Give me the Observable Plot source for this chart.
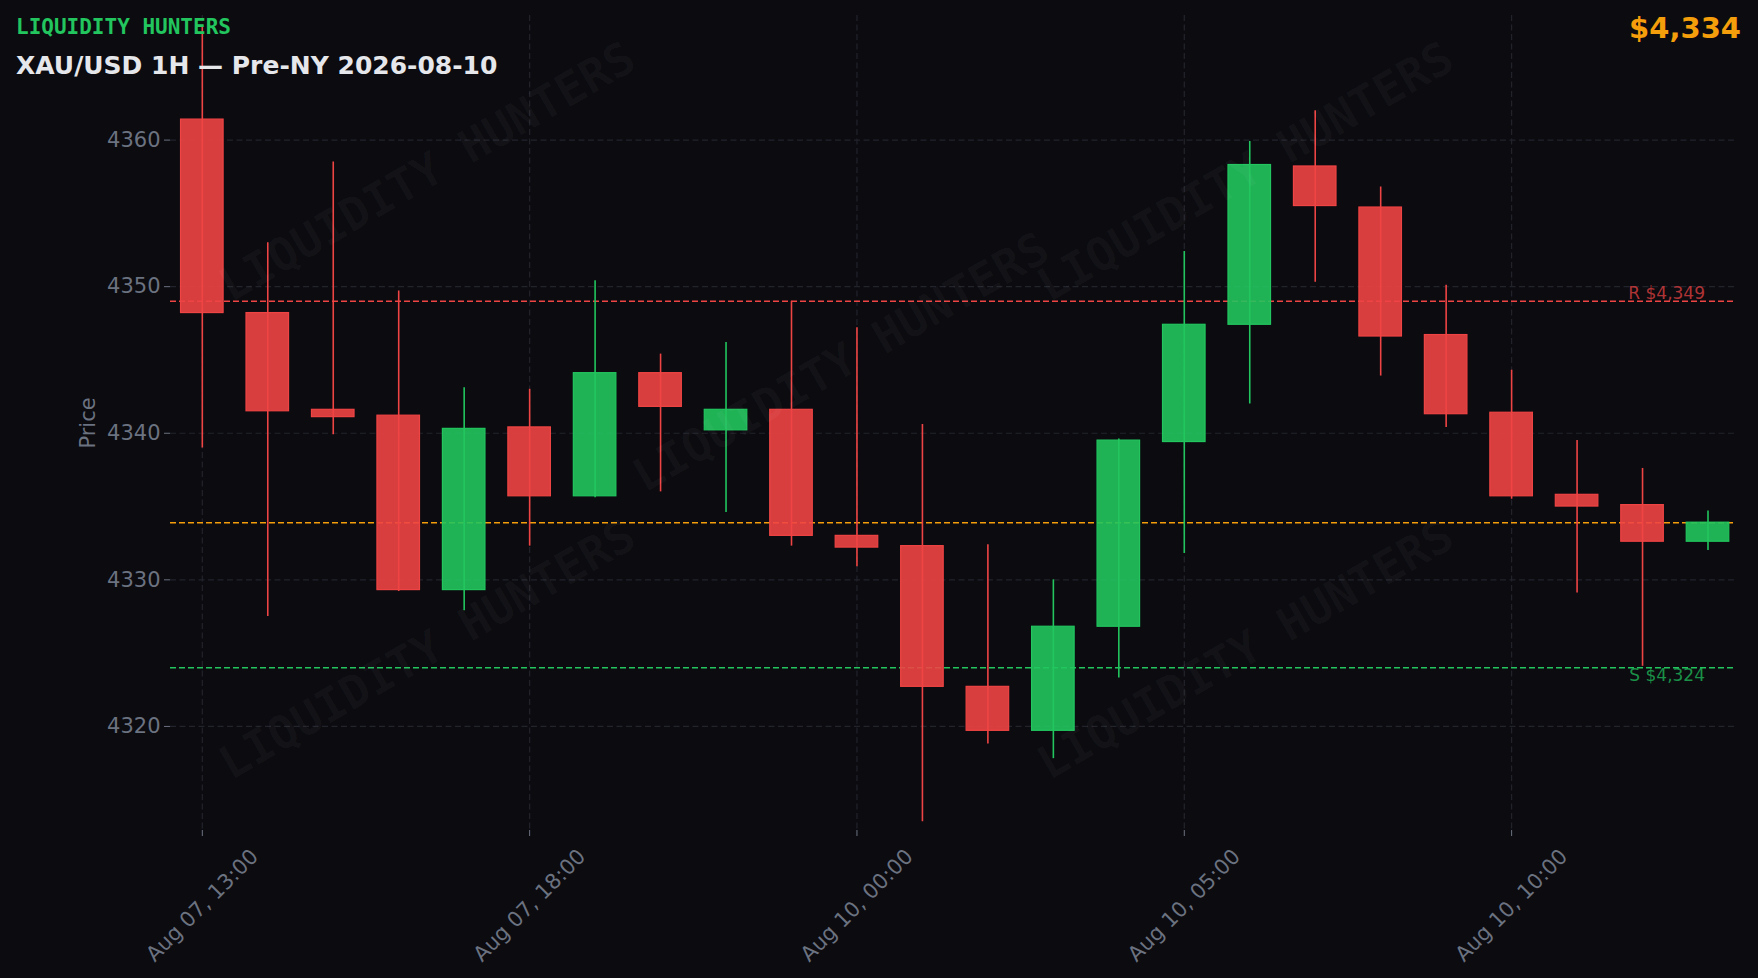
<!DOCTYPE html>
<html>
<head>
<meta charset="utf-8">
<script src="https://cdn.jsdelivr.net/npm/d3@7"></script>
<script src="https://cdn.jsdelivr.net/npm/@observablehq/plot@0.6"></script>
<style>
  html, body { margin: 0; padding: 0; background: #0b0b10; }
  #wrap { position: relative; width: 1758px; height: 978px; overflow: hidden; background: #0b0b10; }
  #chart { position: absolute; left: 0; top: 0; }
  .brand { position: absolute; left: 16px; top: 17px; font: bold 21px/21px "DejaVu Sans Mono", monospace; color: #22c55e; white-space: nowrap; }
  .title { position: absolute; left: 16px; top: 53px; font: bold 25px/25px "DejaVu Sans", sans-serif; color: #e5e7eb; white-space: nowrap; }
  .price { position: absolute; right: 17px; top: 14px; font: bold 29px/29px "DejaVu Sans", sans-serif; color: #f59e0b; white-space: nowrap; }
</style>
</head>
<body>
<div id="wrap">
  <div id="chart"></div>
  <div class="brand" id="brand"></div>
  <div class="title" id="title"></div>
  <div class="price" id="price"></div>
</div>
<script>
// ---- Data ----
const brandText = "LIQUIDITY HUNTERS";
const titleText = "XAU/USD 1H — Pre-NY 2026-08-10";
const times = [
  "Aug 07, 13:00", "Aug 07, 14:00", "Aug 07, 15:00", "Aug 07, 16:00", "Aug 07, 17:00",
  "Aug 07, 18:00", "Aug 07, 19:00", "Aug 07, 20:00", "Aug 07, 21:00", "Aug 07, 22:00",
  "Aug 10, 00:00", "Aug 10, 01:00", "Aug 10, 02:00", "Aug 10, 03:00", "Aug 10, 04:00",
  "Aug 10, 05:00", "Aug 10, 06:00", "Aug 10, 07:00", "Aug 10, 08:00", "Aug 10, 09:00",
  "Aug 10, 10:00", "Aug 10, 11:00", "Aug 10, 12:00", "Aug 10, 13:00"
];
const opens  = [4361.4, 4348.2, 4341.6, 4341.2, 4329.3, 4340.4, 4335.7, 4344.1, 4340.2, 4341.6, 4333.0, 4332.3, 4322.7, 4319.7, 4326.8, 4339.4, 4347.4, 4358.2, 4355.4, 4346.7, 4341.4, 4335.8, 4335.1, 4332.6];
const closes = [4348.2, 4341.5, 4341.1, 4329.3, 4340.3, 4335.7, 4344.1, 4341.8, 4341.6, 4333.0, 4332.2, 4322.7, 4319.7, 4326.8, 4339.5, 4347.4, 4358.3, 4355.5, 4346.6, 4341.3, 4335.7, 4335.0, 4332.6, 4333.9];
const highs  = [4367.8, 4353.0, 4358.5, 4349.7, 4343.1, 4343.0, 4350.4, 4345.4, 4346.2, 4349.0, 4347.2, 4340.6, 4332.4, 4330.0, 4339.6, 4352.4, 4359.9, 4362.0, 4356.8, 4350.1, 4344.3, 4339.5, 4337.6, 4334.7];
const lows   = [4339.0, 4327.5, 4339.9, 4329.2, 4327.9, 4332.3, 4335.6, 4336.0, 4334.6, 4332.3, 4330.9, 4313.5, 4318.8, 4317.8, 4323.3, 4331.8, 4342.0, 4350.3, 4343.9, 4340.4, 4335.5, 4329.1, 4324.1, 4332.0];
const resistance = 4349;
const support = 4324;
const current = 4333.9;
const yTicks = [4320, 4330, 4340, 4350, 4360];
const xTickIdx = [0, 5, 10, 15, 20];
// watermark anchor points in chart units (candle index, price)
const wmX = [3.44, 9.76, 15.94, 3.44, 15.94];
const wmY = [4357.8, 4344.8, 4357.8, 4325.2, 4325.2];

// ---- Styles ----
const GREEN = "#22c55e", RED = "#ef4444", ORANGE = "#f59e0b", GRAY = "#6b7280", GRID = "#23232c";
const fmt = v => "$" + d3.format(",.0f")(v);

document.getElementById("brand").textContent = brandText;
document.getElementById("title").textContent = titleText;
document.getElementById("price").textContent = fmt(current);

const candles = times.map((t, i) => ({i, t, open: opens[i], close: closes[i], high: highs[i], low: lows[i]}));
const col = d => d.close >= d.open ? GREEN : RED;
const wm = wmX.map((x, k) => ({x, y: wmY[k]}));
const half = 0.325;

const chart = Plot.plot({
  width: 1758,
  height: 978,
  marginLeft: 170,
  marginRight: 23,
  marginTop: 15,
  marginBottom: 148,
  style: {background: "transparent", color: GRAY, fontFamily: "DejaVu Sans, sans-serif", fontSize: "20px", overflow: "visible"},
  x: {domain: [-0.486, 23.42]},
  y: {domain: [4312.9, 4368.5]},
  color: {type: "identity"},
  marks: [
    Plot.gridY(yTicks, {stroke: GRID, strokeOpacity: 1, strokeWidth: 1.2, strokeDasharray: "6,3.5"}),
    Plot.gridX(xTickIdx, {stroke: GRID, strokeOpacity: 1, strokeWidth: 1.2, strokeDasharray: "6,3.5"}),
    Plot.ruleY([resistance], {stroke: RED, strokeWidth: 1.5, strokeDasharray: "6,3"}),
    Plot.ruleY([support], {stroke: GREEN, strokeWidth: 1.5, strokeDasharray: "6,3"}),
    Plot.ruleY([current], {stroke: ORANGE, strokeWidth: 1.5, strokeDasharray: "6,3"}),
    Plot.ruleX(candles, {x: "i", y1: "low", y2: "high", stroke: col, strokeWidth: 1.6}),
    Plot.rect(candles, {
      x1: d => d.i - half, x2: d => d.i + half,
      y1: "open", y2: "close",
      fill: col, fillOpacity: 0.9, stroke: col, strokeWidth: 1.2
    }),
    Plot.text(wm, {
      x: "x", y: "y", text: () => brandText, rotate: -30,
      fontFamily: "DejaVu Sans Mono, monospace", fontWeight: "bold", fontSize: 46,
      fill: "#ffffff", fillOpacity: 0.035, textAnchor: "middle", lineAnchor: "middle"
    }),
    Plot.text([resistance], {
      x: () => candles.length - 1, y: d => d, text: d => "R " + fmt(d),
      textAnchor: "end", lineAnchor: "bottom", dx: -3, dy: -2,
      fontSize: 17, fill: RED, fillOpacity: 0.72
    }),
    Plot.text([support], {
      x: () => candles.length - 1, y: d => d, text: d => "S " + fmt(d),
      textAnchor: "end", lineAnchor: "top", dx: -3, dy: 1,
      fontSize: 17, fill: GREEN, fillOpacity: 0.72
    }),
    Plot.axisY({
      ticks: yTicks, tickFormat: d => String(d), tickSize: 6, tickPadding: 4, fontSize: 21, color: GRAY,
      label: "Price", labelAnchor: "center", labelArrow: "none", labelOffset: 90
    }),
    Plot.axisX({
      ticks: xTickIdx, tickFormat: i => times[i], tickSize: 6, tickPadding: 69,
      tickRotate: -45, textAnchor: "middle", lineAnchor: "middle",
      fontSize: 21, color: GRAY, label: null
    })
  ]
});
document.getElementById("chart").appendChild(chart);
</script>
</body>
</html>
